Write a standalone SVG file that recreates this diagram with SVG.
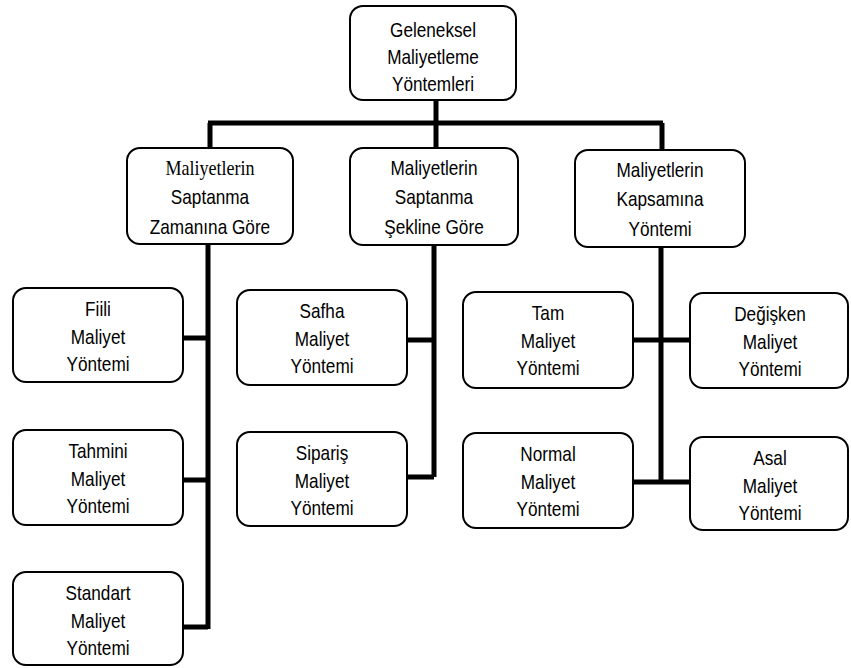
<svg xmlns="http://www.w3.org/2000/svg" width="851" height="668" viewBox="0 0 851 668">
<style>
.box{fill:#fff;stroke:#000;stroke-width:2}
.t{font-family:"Liberation Sans",Arial,sans-serif;font-size:20px;text-anchor:middle;fill:#000}
.s{font-family:"Liberation Serif","Times New Roman",serif;font-size:21px;text-anchor:middle;fill:#000}
.c{fill:none;stroke:#000;stroke-width:5}
</style>
<rect width="851" height="668" fill="#fff"/>
<g id="connectors">
<path class="c" d="M436 100V123M208 123H663M210 123V148M436 123V148M662 123V150"/>
<path class="c" d="M208 243V629M183 338H208M183 480H208M183 627H208"/>
<path class="c" d="M434 245V477M407 340H434M407 477H434"/>
<path class="c" d="M661 247V482M633 340H690M633 482H690"/>
</g>
<g id="root"><rect class="box" x="350" y="6" width="166" height="94" rx="13"/>
<g transform="translate(433 0) scale(0.86 1)"><text class="t" y="37">Geleneksel</text><text class="t" y="64">Maliyetleme</text><text class="t" y="91">Yöntemleri</text></g></g>
<g id="zaman"><rect class="box" x="127" y="148" width="166" height="96" rx="13"/>
<g transform="translate(210 0) scale(0.86 1)"><text class="s" y="175">Maliyetlerin</text><text class="t" y="204">Saptanma</text><text class="t" y="234">Zamanına Göre</text></g></g>
<g id="sekil"><rect class="box" x="350" y="148" width="168" height="97" rx="13"/>
<g transform="translate(434 0) scale(0.86 1)"><text class="t" y="175">Maliyetlerin</text><text class="t" y="204">Saptanma</text><text class="t" y="234">Şekline Göre</text></g></g>
<g id="kapsam"><rect class="box" x="575" y="150" width="170" height="97" rx="13"/>
<g transform="translate(660 0) scale(0.86 1)"><text class="t" y="177">Maliyetlerin</text><text class="t" y="206">Kapsamına</text><text class="t" y="236">Yöntemi</text></g></g>
<g id="fiili"><rect class="box" x="13" y="288" width="170" height="94" rx="13"/>
<g transform="translate(98 0) scale(0.86 1)"><text class="t" y="316">Fiili</text><text class="t" y="344">Maliyet</text><text class="t" y="371">Yöntemi</text></g></g>
<g id="tahmini"><rect class="box" x="13" y="430" width="170" height="95" rx="13"/>
<g transform="translate(98 0) scale(0.86 1)"><text class="t" y="458">Tahmini</text><text class="t" y="486">Maliyet</text><text class="t" y="513">Yöntemi</text></g></g>
<g id="standart"><rect class="box" x="13" y="572" width="170" height="93" rx="13"/>
<g transform="translate(98 0) scale(0.86 1)"><text class="t" y="600">Standart</text><text class="t" y="628">Maliyet</text><text class="t" y="655">Yöntemi</text></g></g>
<g id="safha"><rect class="box" x="237" y="290" width="170" height="95" rx="13"/>
<g transform="translate(322 0) scale(0.86 1)"><text class="t" y="318">Safha</text><text class="t" y="346">Maliyet</text><text class="t" y="373">Yöntemi</text></g></g>
<g id="siparis"><rect class="box" x="237" y="432" width="170" height="94" rx="13"/>
<g transform="translate(322 0) scale(0.86 1)"><text class="t" y="460">Sipariş</text><text class="t" y="488">Maliyet</text><text class="t" y="515">Yöntemi</text></g></g>
<g id="tam"><rect class="box" x="463" y="292" width="170" height="96" rx="13"/>
<g transform="translate(548 0) scale(0.86 1)"><text class="t" y="320">Tam</text><text class="t" y="348">Maliyet</text><text class="t" y="375">Yöntemi</text></g></g>
<g id="degisken"><rect class="box" x="690" y="293" width="158" height="95" rx="13"/>
<g transform="translate(770 0) scale(0.86 1)"><text class="t" y="321">Değişken</text><text class="t" y="349">Maliyet</text><text class="t" y="376">Yöntemi</text></g></g>
<g id="normal"><rect class="box" x="463" y="433" width="170" height="95" rx="13"/>
<g transform="translate(548 0) scale(0.86 1)"><text class="t" y="461">Normal</text><text class="t" y="489">Maliyet</text><text class="t" y="516">Yöntemi</text></g></g>
<g id="asal"><rect class="box" x="690" y="437" width="158" height="93" rx="13"/>
<g transform="translate(770 0) scale(0.86 1)"><text class="t" y="465">Asal</text><text class="t" y="493">Maliyet</text><text class="t" y="520">Yöntemi</text></g></g>
</svg>
